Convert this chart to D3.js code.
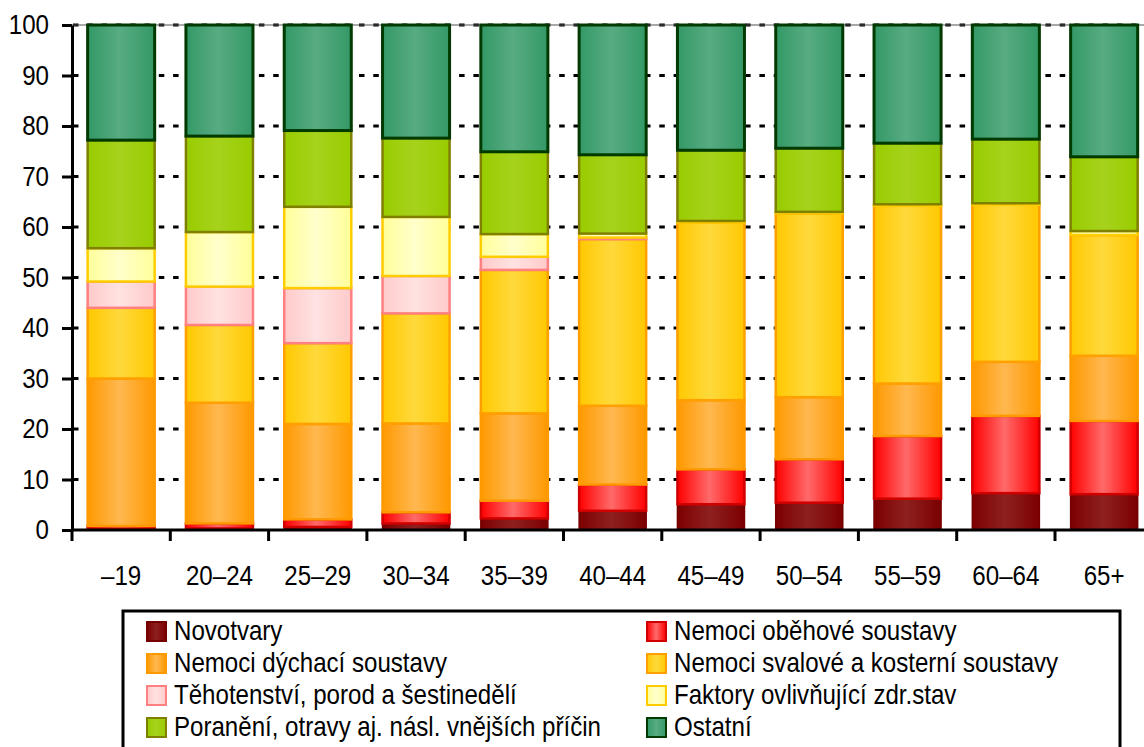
<!DOCTYPE html>
<html>
<head>
<meta charset="utf-8">
<script src="https://cdnjs.cloudflare.com/ajax/libs/d3/7.8.5/d3.min.js"></script>
<style>
  body { margin: 0; background: #fff; }
  svg text { font-family: "Liberation Sans", Arial, sans-serif; fill: #000; }
</style>
</head>
<body>
<svg id="chart" width="1144" height="747"></svg>
<script>
// age groups
var categories = ['–19', '20–24', '25–29', '30–34', '35–39', '40–44', '45–49', '50–54', '55–59', '60–64', '65+'];

// share of cases (%) per diagnosis group
var novotvary = [0.2, 0.3, 0.6, 1.3, 2.3, 3.8, 5.1, 5.4, 6.2, 7.3, 7.1];
var obehove   = [0.6, 1.0, 1.5, 2.2, 3.5, 5.2, 6.9, 8.6, 12.4, 15.3, 14.5];
var dychaci   = [29.2, 23.9, 18.9, 17.6, 17.3, 15.6, 13.7, 12.3, 10.4, 10.7, 12.9];
var svalove   = [14.0, 15.4, 16.0, 21.8, 28.4, 33.0, 35.2, 36.4, 35.2, 31.1, 23.9];
var tehot     = [5.2, 7.6, 10.9, 7.4, 2.6, 0.3, 0, 0, 0, 0, 0];
var faktory   = [6.6, 10.8, 16.1, 11.7, 4.5, 0.8, 0.3, 0.3, 0.3, 0.3, 0.8];
var poraneni  = [21.4, 19.0, 15.1, 15.6, 16.3, 15.6, 14.0, 12.6, 12.1, 12.7, 14.7];
var ostatni   = [22.8, 22.0, 20.9, 22.4, 25.1, 25.7, 24.8, 24.4, 23.4, 22.6, 26.1];

var seriesNames = ['Novotvary', 'Nemoci oběhové soustavy', 'Nemoci dýchací soustavy',
  'Nemoci svalové a kosterní soustavy', 'Těhotenství, porod a šestinedělí',
  'Faktory ovlivňující zdr.stav', 'Poranění, otravy aj. násl. vnějších příčin', 'Ostatní'];
var seriesValues = [novotvary, obehove, dychaci, svalove, tehot, faktory, poraneni, ostatni];

var yTicks = [0, 10, 20, 30, 40, 50, 60, 70, 80, 90, 100];

// fill: edge / middle of the gradient, stroke
var styles = [
  { edge: '#7c0000', mid: '#8e2020', stroke: '#750000', w: 1.5 },
  { edge: '#ff0000', mid: '#ff6a6a', stroke: '#d00000', w: 2.5 },
  { edge: '#ff9900', mid: '#ffb850', stroke: '#ff9900', w: 2.5 },
  { edge: '#ffc800', mid: '#ffd93c', stroke: '#ff9f00', w: 2.5 },
  { edge: '#ffcaca', mid: '#ffe2e2', stroke: '#ff8080', w: 2.5 },
  { edge: '#ffff99', mid: '#ffffcc', stroke: '#ffcc00', w: 2.5 },
  { edge: '#99cc00', mid: '#a6d21c', stroke: '#808000', w: 2.5 },
  { edge: '#339966', mid: '#58ab82', stroke: '#003a00', w: 3 }
];

var rows = categories.map(function (c, i) {
  var r = { cat: c };
  seriesNames.forEach(function (n, k) { r[n] = seriesValues[k][i]; });
  return r;
});

var svg = d3.select('#chart');
var plotLeft = 72, plotBottom = 530, plotTop = 25, step = 98.3;

var x = d3.scaleBand().domain(categories)
  .range([plotLeft, plotLeft + step * categories.length])
  .paddingInner(0.318).paddingOuter(0.159);
var xEdge = d3.scaleBand().domain(categories)
  .range([plotLeft, plotLeft + step * categories.length]).padding(0);
var y = d3.scaleLinear().domain([0, 100]).range([plotBottom, plotTop]);

// gradients
var defs = svg.append('defs');
styles.forEach(function (s, i) {
  var g = defs.append('linearGradient').attr('id', 'g' + i)
    .attr('x1', '0%').attr('x2', '100%').attr('y1', '0%').attr('y2', '0%');
  g.append('stop').attr('offset', '0%').attr('stop-color', s.edge);
  g.append('stop').attr('offset', '48%').attr('stop-color', s.mid);
  g.append('stop').attr('offset', '100%').attr('stop-color', s.edge);
});

// dotted grid
svg.append('g').selectAll('line').data(yTicks.slice(1)).enter().append('line')
  .attr('x1', plotLeft).attr('x2', 1144)
  .attr('y1', function (d) { return y(d); }).attr('y2', function (d) { return y(d); })
  .attr('stroke', '#000').attr('stroke-width', 3)
  .attr('stroke-dasharray', '5.5 8.8').attr('stroke-dashoffset', -1);
svg.append('line').attr('x1', plotLeft).attr('x2', 1144).attr('y1', y(100)).attr('y2', y(100))
  .attr('stroke', '#555').attr('stroke-width', 1.2);

// stacked bars
var stack = d3.stack().keys(seriesNames)(rows);
svg.append('g').selectAll('g').data(stack).enter().append('g')
  .each(function (layer, k) {
    var s = styles[k];
    d3.select(this).selectAll('rect')
      .data(layer.filter(function (d) { return d[1] - d[0] > 0; }))
      .enter().append('rect')
      .attr('x', function (d) { return x(d.data.cat); })
      .attr('width', x.bandwidth())
      .attr('y', function (d) { return y(d[1]); })
      .attr('height', function (d) { return y(d[0]) - y(d[1]); })
      .attr('fill', 'url(#g' + k + ')')
      .attr('stroke', s.stroke).attr('stroke-width', s.w);
  });

// y axis
var yAxis = svg.append('g').attr('transform', 'translate(' + plotLeft + ',0)')
  .call(d3.axisLeft(y).tickValues(yTicks).tickSize(10).tickPadding(13).tickSizeOuter(0));
yAxis.selectAll('text').style('font-size', '28px');
yAxis.selectAll('line, path').attr('stroke', '#000').attr('stroke-width', 3);

// x axis
var xAxis = svg.append('g').attr('transform', 'translate(0,' + plotBottom + ')')
  .call(d3.axisBottom(x).tickSize(0).tickPadding(55).tickSizeOuter(0));
xAxis.select('.domain').attr('stroke', '#000').attr('stroke-width', 3)
  .attr('d', 'M' + plotLeft + ',0H1144');
xAxis.selectAll('text').style('font-size', '28px').attr('dy', '0');
xAxis.selectAll('.edge').data(categories).enter().append('line')
  .attr('class', 'edge')
  .attr('x1', function (d) { return xEdge(d); }).attr('x2', function (d) { return xEdge(d); })
  .attr('y1', 0).attr('y2', 11)
  .attr('stroke', '#000').attr('stroke-width', 3);

// legend
var legend = svg.append('g');
legend.append('rect').attr('x', 123).attr('y', 611).attr('width', 997).attr('height', 160)
  .attr('fill', '#fff').attr('stroke', '#000').attr('stroke-width', 3);
var colX = [147, 647], rowY = 622, rowH = 32;
var item = legend.selectAll('.item').data(seriesNames).enter().append('g')
  .attr('transform', function (d, i) {
    return 'translate(' + colX[i % 2] + ',' + (rowY + Math.floor(i / 2) * rowH) + ')';
  });
item.append('rect').attr('width', 19).attr('height', 19)
  .attr('fill', function (d, i) { return 'url(#g' + i + ')'; })
  .attr('stroke', function (d, i) { return styles[i].stroke; })
  .attr('stroke-width', 2);
item.append('text').attr('x', 27).attr('y', 18).style('font-size', '28px')
  .text(function (d) { return d; });

// the original face is a narrow sans: squeeze the regular one
svg.selectAll('text').each(function () {
  var len = this.getComputedTextLength();
  d3.select(this).attr('textLength', len * 0.86).attr('lengthAdjust', 'spacingAndGlyphs');
});
</script>
</body>
</html>
